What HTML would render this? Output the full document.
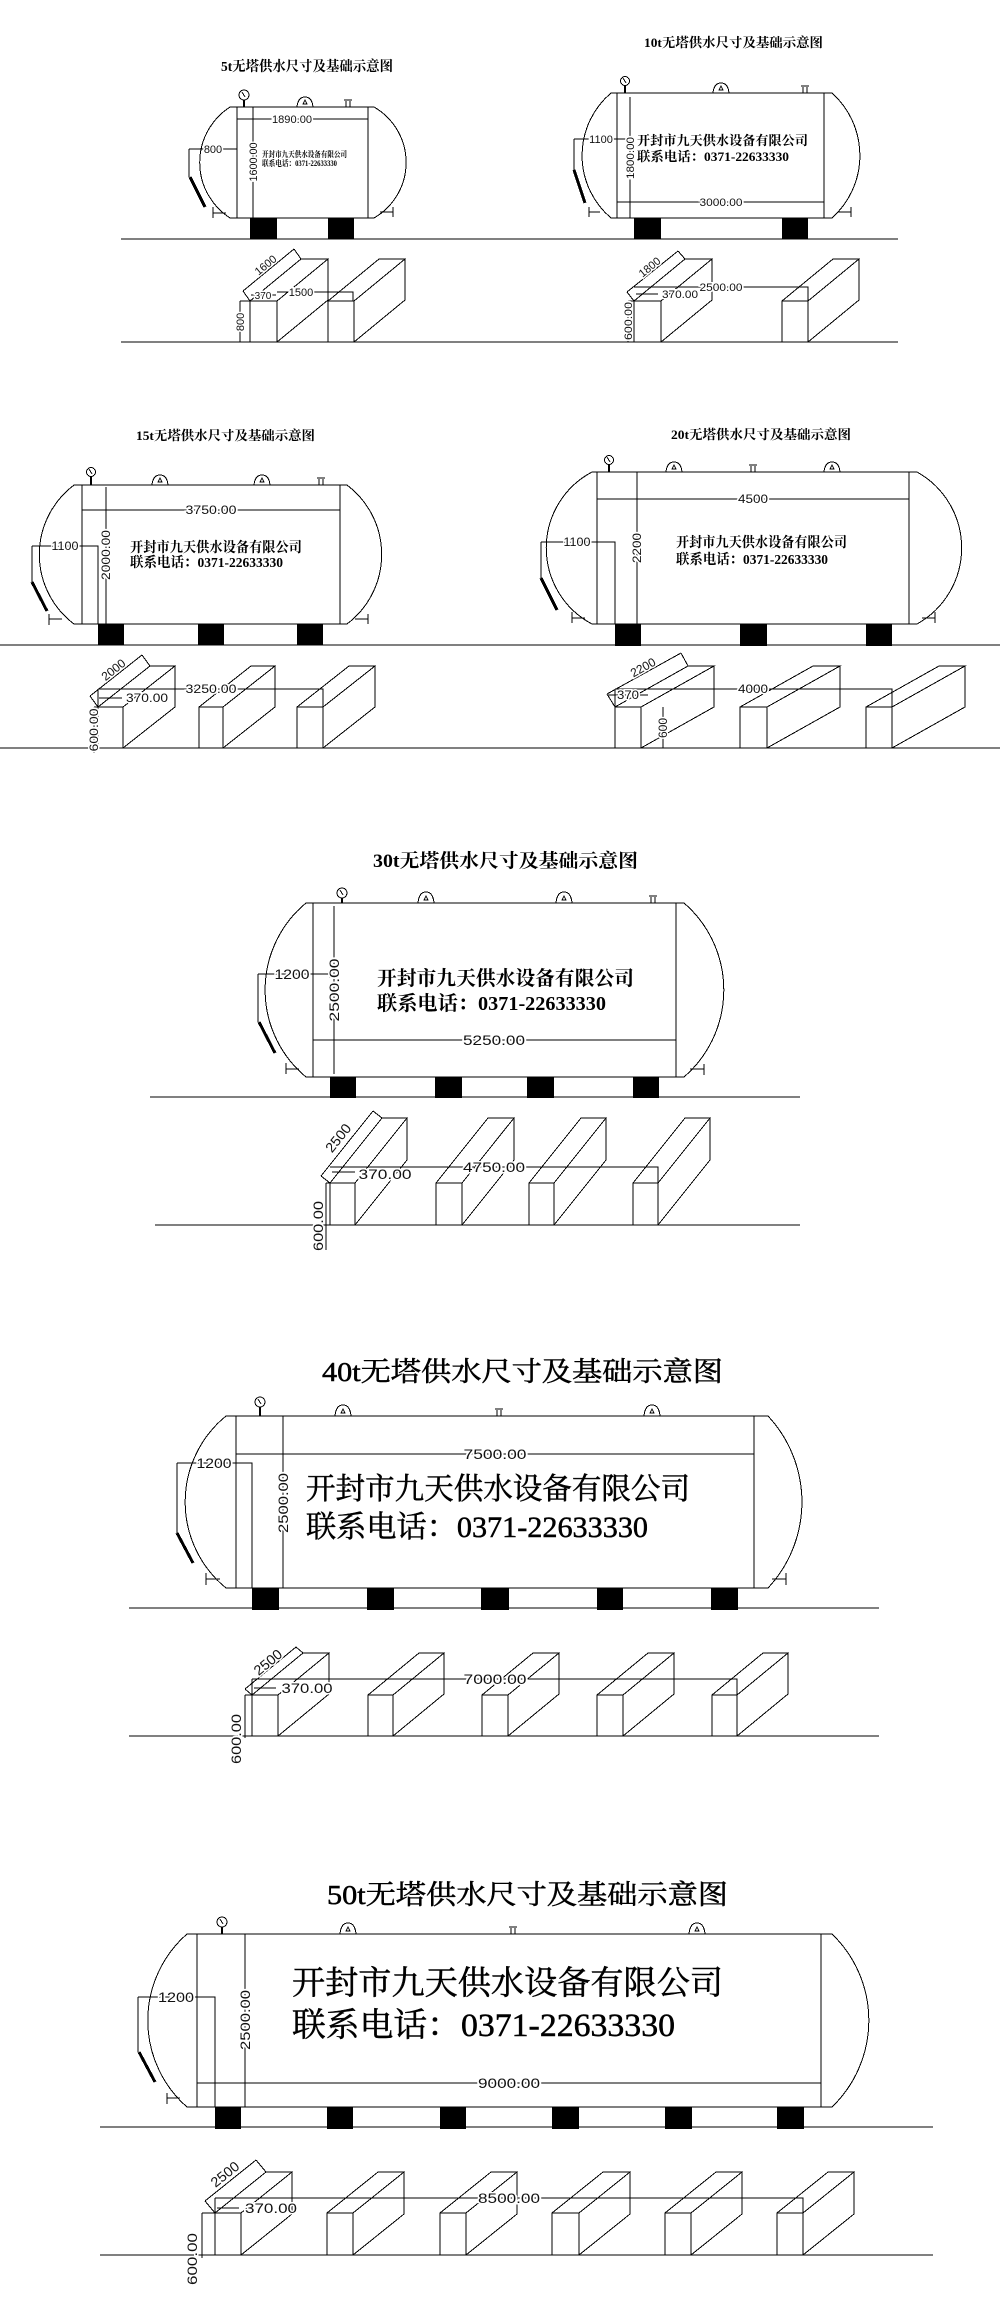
<!DOCTYPE html>
<html><head><meta charset="utf-8">
<style>
html,body{margin:0;padding:0;background:#fff;}
svg{display:block;}
.l{stroke:#000;stroke-width:1;fill:none;}
.t{font-family:"Liberation Serif","Noto Serif CJK SC",serif;fill:#000;}
.h{stroke:#000;stroke-width:0.5;}
.d{font-family:"Liberation Sans","DejaVu Sans",sans-serif;fill:#111;stroke:#fff;stroke-width:3;paint-order:stroke;}
</style></head><body>
<svg width="1000" height="2307" viewBox="0 0 1000 2307" xmlns="http://www.w3.org/2000/svg">
<rect width="1000" height="2307" fill="#fff"/>

<g class="l" shape-rendering="crispEdges">
<!-- ===== 5t ===== -->
<path d="M230,107 L374,107 A64,64 0 0 1 374,218 L230,218 A66,66 0 0 1 230,107"/>
<path d="M237,107 V218 M368,107 V218"/>
<path d="M237,119 H368 M237,116 V122 M368,116 V122"/>
<path d="M253,107 V218"/>
<path d="M189,149 H237 M189,149 V177"/>
<path d="M190,177 L205,207" stroke-width="3"/>
<circle cx="244" cy="95" r="5"/><path d="M242,92 L245,97"/><path d="M244,100 V107" stroke-width="2"/>
<path d="M297,107 Q298,97 305,97 Q312,97 313,107 M303,104 L305,100 L307,104Z"/>
<path d="M346,107 V101 M350,107 V101 M344,100 H352"/>
<path d="M213,207 V218 M213,213 H226 M393,207 V217 M380,212 H393"/>
<path d="M121,239 H898 M121,342 H898"/>
<rect x="250" y="301" width="27" height="41"/><path d="M250,301 L301,259 L328,259 L277,301 M328,259 V300 L277,342"/>
<rect x="328" y="301" width="26" height="41"/><path d="M328,301 L379,259 L405,259 L354,301 M405,259 V300 L354,342"/>
<path d="M277,292 H353 V301"/>
<path d="M251,295 H276"/>
<path d="M250,301 L243,291 M301,259 L294,249 M243,291 L294,249"/>
<path d="M240,301 V342 M240,301 H250"/>

<!-- ===== 10t ===== -->
<path d="M611,93 L832,93 A84,84 0 0 1 832,218 L611,218 A82,82 0 0 1 611,93"/>
<path d="M617,93 V218 M824,93 V218"/>
<path d="M617,202 H824 M617,199 V205 M824,199 V205"/>
<path d="M630,97 V218"/>
<path d="M574,139 H630 M574,139 V170"/>
<path d="M574,170 L585,203" stroke-width="3"/>
<circle cx="625" cy="81" r="4.5"/><path d="M623,78 L626,83"/><path d="M625,86 V93" stroke-width="2"/>
<path d="M713,93 Q714,83 721,83 Q728,83 729,93 M719,90 L721,86 L723,90Z"/>
<path d="M803,93 V87 M807,93 V87 M801,86 H809"/>
<path d="M589,207 V217 M589,212 H600 M851,207 V217 M838,212 H851"/>
<rect x="634" y="301" width="27" height="41"/><path d="M634,301 L685,259 L712,259 L661,301 M712,259 V300 L661,342"/>
<rect x="782" y="301" width="26" height="41"/><path d="M782,301 L833,259 L859,259 L808,301 M859,259 V300 L808,342"/>
<path d="M634,287 H808 V301"/>
<path d="M636,294 H658"/>
<path d="M634,301 L627,292 M685,259 L678,251 M627,292 L678,251"/>
<path d="M628,301 V342 M628,301 H634"/>

<!-- ===== 15t ===== -->
<path d="M74,485 L347,485 A87,87 0 0 1 347,624 L74,624 A87,87 0 0 1 74,485"/>
<path d="M82,485 V624 M340,485 V624"/>
<path d="M82,510 H340 M82,507 V513 M340,507 V513"/>
<path d="M106,487 V624"/>
<path d="M32,546 H98 V624 M32,546 V582"/>
<path d="M32,582 L47,611" stroke-width="3"/>
<circle cx="91" cy="472" r="4.5"/><path d="M89,469 L92,474"/><path d="M91,477 V485" stroke-width="2"/>
<path d="M152,485 Q153,475 160,475 Q167,475 168,485 M158,482 L160,478 L162,482Z"/>
<path d="M254,485 Q255,475 262,475 Q269,475 270,485 M260,482 L262,478 L264,482Z"/>
<path d="M319,485 V479 M323,485 V479 M317,478 H325"/>
<path d="M49,614 V625 M49,619 H62 M368,614 V624 M355,619 H368"/>
<path d="M0,645 H1000 M0,748 H1000"/>
<rect x="98" y="707" width="25" height="41"/><path d="M98,707 L150,666 L175,666 L123,707 M175,666 V707 L123,748"/>
<rect x="199" y="707" width="24" height="41"/><path d="M199,707 L251,666 L275,666 L223,707 M275,666 V707 L223,748"/>
<rect x="297" y="707" width="26" height="41"/><path d="M297,707 L349,666 L375,666 L323,707 M375,666 V707 L323,748"/>
<path d="M98,689 V707 M98,689 H323 V707"/>
<path d="M99,698 H122"/>
<path d="M98,707 L90,696 M150,666 L142,655 M90,696 L142,655"/>
<path d="M94,707 V753 M94,707 H98"/>

<!-- ===== 20t ===== -->
<path d="M592,472 L917,472 A87,87 0 0 1 917,624 L592,624 A86,86 0 0 1 592,472"/>
<path d="M597,472 V624 M909,472 V624"/>
<path d="M597,499 H909 M597,496 V502 M909,496 V502"/>
<path d="M637,472 V624"/>
<path d="M541,542 H615 V624 M541,542 V578"/>
<path d="M541,578 L557,610" stroke-width="3"/>
<circle cx="609" cy="460" r="4.5"/><path d="M607,457 L610,462"/><path d="M609,465 V472" stroke-width="2"/>
<path d="M666,472 Q667,462 674,462 Q681,462 682,472 M672,469 L674,465 L676,469Z"/>
<path d="M824,472 Q825,462 832,462 Q839,462 840,472 M830,469 L832,465 L834,469Z"/>
<path d="M751,472 V466 M755,472 V466 M749,465 H757"/>
<path d="M572,612 V623 M572,618 H585 M935,612 V623 M922,618 H935"/>
<rect x="615" y="707" width="26" height="41"/><path d="M615,707 L688,666 L714,666 L641,707 M714,666 V707 L641,748"/>
<rect x="740" y="707" width="27" height="41"/><path d="M740,707 L813,666 L840,666 L767,707 M840,666 V707 L767,748"/>
<rect x="866" y="707" width="26" height="41"/><path d="M866,707 L939,666 L965,666 L892,707 M965,666 V707 L892,748"/>
<path d="M615,689 V707 M615,689 H892 V707"/>
<path d="M607,695 H648"/>
<path d="M615,707 L607,694 M688,666 L681,653 M607,694 L681,653"/>
<path d="M663,707 V748"/>

<!-- ===== 30t ===== -->
<path d="M306,903 L684,903 A115,115 0 0 1 684,1077 L306,1077 A113,113 0 0 1 306,903"/>
<path d="M313,903 V1077 M676,903 V1077"/>
<path d="M313,1040 H676 M313,1037 V1043 M676,1037 V1043"/>
<path d="M334,906 V1074"/>
<path d="M258,974 H330 V978 M258,974 V1022"/>
<path d="M259,1022 L275,1053" stroke-width="3"/>
<circle cx="342" cy="893" r="5"/><path d="M340,890 L343,895"/><path d="M342,898 V903" stroke-width="2"/>
<path d="M418,903 Q419,892 426,892 Q433,892 434,903 M424,900 L426,896 L428,900Z"/>
<path d="M556,903 Q557,892 564,892 Q571,892 572,903 M562,900 L564,896 L566,900Z"/>
<path d="M651,903 V897 M655,903 V897 M649,896 H657"/>
<path d="M286,1063 V1074 M286,1069 H299 M704,1064 V1075 M690,1069 H704"/>
<path d="M150,1097 H800 M155,1225 H800"/>
<rect x="330" y="1183" width="25" height="42"/><path d="M330,1183 L382,1118 L407,1118 L355,1183 M407,1118 V1160 L355,1225"/>
<rect x="436" y="1183" width="26" height="42"/><path d="M436,1183 L488,1118 L514,1118 L462,1183 M514,1118 V1160 L462,1225"/>
<rect x="529" y="1183" width="25" height="42"/><path d="M529,1183 L581,1118 L606,1118 L554,1183 M606,1118 V1160 L554,1225"/>
<rect x="633" y="1183" width="25" height="42"/><path d="M633,1183 L685,1118 L710,1118 L658,1183 M710,1118 V1160 L658,1225"/>
<path d="M330,1167 H658 V1183"/>
<path d="M332,1172 H355"/>
<path d="M330,1183 L321,1176 M382,1118 L373,1111 M321,1176 L373,1111"/>
<path d="M326,1183 V1250 M326,1183 H330"/>

<!-- ===== 40t ===== -->
<path d="M226,1416 L768,1416 A126,126 0 0 1 768,1588 L226,1588 A111,111 0 0 1 226,1416"/>
<path d="M236,1416 V1588 M754,1416 V1588"/>
<path d="M236,1454 H754 M236,1451 V1457 M754,1451 V1457"/>
<path d="M283,1416 V1588"/>
<path d="M177,1463 H252 V1588 M177,1463 V1533"/>
<path d="M177,1533 L193,1563" stroke-width="3"/>
<circle cx="260" cy="1402" r="5"/><path d="M258,1399 L261,1404"/><path d="M260,1407 V1416" stroke-width="2"/>
<path d="M335,1416 Q336,1405 343,1405 Q350,1405 351,1416 M341,1413 L343,1409 L345,1413Z"/>
<path d="M644,1416 Q645,1405 652,1405 Q659,1405 660,1416 M650,1413 L652,1409 L654,1413Z"/>
<path d="M497,1416 V1410 M501,1416 V1410 M495,1409 H503"/>
<path d="M206,1573 V1585 M206,1579 H220 M786,1573 V1585 M772,1579 H786"/>
<path d="M129,1608 H879 M129,1736 H879"/>
<rect x="252" y="1695" width="26" height="41"/><path d="M252,1695 L303,1653 L329,1653 L278,1695 M329,1653 V1694 L278,1736"/>
<rect x="368" y="1695" width="25" height="41"/><path d="M368,1695 L419,1653 L444,1653 L393,1695 M444,1653 V1694 L393,1736"/>
<rect x="482" y="1695" width="26" height="41"/><path d="M482,1695 L533,1653 L559,1653 L508,1695 M559,1653 V1694 L508,1736"/>
<rect x="597" y="1695" width="26" height="41"/><path d="M597,1695 L648,1653 L674,1653 L623,1695 M674,1653 V1694 L623,1736"/>
<rect x="712" y="1695" width="25" height="41"/><path d="M712,1695 L763,1653 L788,1653 L737,1695 M788,1653 V1694 L737,1736"/>
<path d="M252,1679 V1695 M252,1679 H737 V1695"/>
<path d="M254,1688 H276"/>
<path d="M252,1695 L245,1689 M303,1653 L296,1647 M245,1689 L296,1647"/>
<path d="M245,1695 V1738 M245,1695 H252"/>

<!-- ===== 50t ===== -->
<path d="M187,1934 L832,1934 A120,120 0 0 1 832,2107 L187,2107 A115,115 0 0 1 187,1934"/>
<path d="M197,1934 V2107 M821,1934 V2107"/>
<path d="M197,2083 H821 M197,2080 V2086 M821,2080 V2086"/>
<path d="M245,1934 V2107"/>
<path d="M138,1997 H215 V2107 M138,1997 V2052"/>
<path d="M139,2052 L155,2082" stroke-width="3"/>
<circle cx="222" cy="1922" r="5"/><path d="M220,1919 L223,1924"/><path d="M222,1927 V1934" stroke-width="2"/>
<path d="M340,1934 Q341,1923 348,1923 Q355,1923 356,1934 M346,1931 L348,1927 L350,1931Z"/>
<path d="M689,1934 Q690,1923 697,1923 Q704,1923 705,1934 M695,1931 L697,1927 L699,1931Z"/>
<path d="M511,1934 V1928 M515,1934 V1928 M509,1927 H517"/>
<path d="M167,2093 V2104 M167,2098 H180"/>
<path d="M100,2127 H933 M100,2255 H933"/>
<rect x="215" y="2213" width="26" height="42"/><path d="M215,2213 L266,2172 L292,2172 L241,2213 M292,2172 V2214 L241,2255"/>
<rect x="327" y="2213" width="26" height="42"/><path d="M327,2213 L378,2172 L404,2172 L353,2213 M404,2172 V2214 L353,2255"/>
<rect x="440" y="2213" width="26" height="42"/><path d="M440,2213 L491,2172 L517,2172 L466,2213 M517,2172 V2214 L466,2255"/>
<rect x="552" y="2213" width="27" height="42"/><path d="M552,2213 L603,2172 L630,2172 L579,2213 M630,2172 V2214 L579,2255"/>
<rect x="665" y="2213" width="26" height="42"/><path d="M665,2213 L716,2172 L742,2172 L691,2213 M742,2172 V2214 L691,2255"/>
<rect x="777" y="2213" width="26" height="42"/><path d="M777,2213 L828,2172 L854,2172 L803,2213 M854,2172 V2214 L803,2255"/>
<path d="M215,2198 V2213 M215,2198 H803 V2213"/>
<path d="M217,2208 H239"/>
<path d="M215,2213 L205,2201 M266,2172 L256,2160 M205,2201 L256,2160"/>
<path d="M202,2213 V2258 M202,2213 H215"/>
</g>

<g fill="#000" shape-rendering="crispEdges">
<rect x="250" y="218" width="27" height="21"/><rect x="328" y="218" width="26" height="21"/>
<rect x="634" y="218" width="27" height="21"/><rect x="782" y="218" width="26" height="21"/>
<rect x="98" y="624" width="26" height="21"/><rect x="198" y="624" width="26" height="21"/><rect x="297" y="624" width="26" height="21"/>
<rect x="615" y="624" width="26" height="22"/><rect x="740" y="624" width="27" height="22"/><rect x="866" y="624" width="26" height="22"/>
<rect x="330" y="1077" width="26" height="21"/><rect x="435" y="1077" width="27" height="21"/><rect x="527" y="1077" width="27" height="21"/><rect x="633" y="1077" width="26" height="21"/>
<rect x="252" y="1588" width="27" height="22"/><rect x="367" y="1588" width="27" height="22"/><rect x="481" y="1588" width="28" height="22"/><rect x="597" y="1588" width="26" height="22"/><rect x="711" y="1588" width="27" height="22"/>
<rect x="215" y="2107" width="26" height="22"/><rect x="327" y="2107" width="26" height="22"/><rect x="440" y="2107" width="26" height="22"/><rect x="552" y="2107" width="27" height="22"/><rect x="665" y="2107" width="27" height="22"/><rect x="777" y="2107" width="27" height="22"/>
</g>

<g class="t">
<text x="221" y="71" font-size="14" font-weight="bold" textLength="172" lengthAdjust="spacingAndGlyphs">5t无塔供水尺寸及基础示意图</text>
<text x="262" y="157" font-size="8" font-weight="bold" textLength="85" lengthAdjust="spacingAndGlyphs">开封市九天供水设备有限公司</text>
<text x="262" y="166" font-size="8" font-weight="bold" textLength="75" lengthAdjust="spacingAndGlyphs">联系电话：0371-22633330</text>

<text x="644" y="47" font-size="13" font-weight="bold" textLength="179" lengthAdjust="spacingAndGlyphs">10t无塔供水尺寸及基础示意图</text>
<text x="637" y="145" font-size="13" font-weight="bold" textLength="171" lengthAdjust="spacingAndGlyphs">开封市九天供水设备有限公司</text>
<text x="637" y="161" font-size="13" font-weight="bold" textLength="152" lengthAdjust="spacingAndGlyphs">联系电话：0371-22633330</text>

<text x="136" y="440" font-size="13" font-weight="bold" textLength="179" lengthAdjust="spacingAndGlyphs">15t无塔供水尺寸及基础示意图</text>
<text x="130" y="552" font-size="14" font-weight="bold" textLength="172" lengthAdjust="spacingAndGlyphs">开封市九天供水设备有限公司</text>
<text x="130" y="567" font-size="14" font-weight="bold" textLength="153" lengthAdjust="spacingAndGlyphs">联系电话：0371-22633330</text>

<text x="671" y="439" font-size="13" font-weight="bold" textLength="180" lengthAdjust="spacingAndGlyphs">20t无塔供水尺寸及基础示意图</text>
<text x="676" y="547" font-size="14" font-weight="bold" textLength="171" lengthAdjust="spacingAndGlyphs">开封市九天供水设备有限公司</text>
<text x="676" y="564" font-size="14" font-weight="bold" textLength="152" lengthAdjust="spacingAndGlyphs">联系电话：0371-22633330</text>

<text x="373" y="867" font-size="19" font-weight="bold" textLength="265" lengthAdjust="spacingAndGlyphs">30t无塔供水尺寸及基础示意图</text>
<text x="377" y="985" font-size="20" font-weight="bold" textLength="257" lengthAdjust="spacingAndGlyphs">开封市九天供水设备有限公司</text>
<text x="377" y="1010" font-size="20" font-weight="bold" textLength="229" lengthAdjust="spacingAndGlyphs">联系电话：0371-22633330</text>

<text class="h" x="322" y="1381" font-size="27" textLength="401" lengthAdjust="spacingAndGlyphs">40t无塔供水尺寸及基础示意图</text>
<text class="h" x="306" y="1499" font-size="30" textLength="384" lengthAdjust="spacingAndGlyphs">开封市九天供水设备有限公司</text>
<text class="h" x="306" y="1537" font-size="30" textLength="342" lengthAdjust="spacingAndGlyphs">联系电话：0371-22633330</text>

<text class="h" x="327" y="1904" font-size="27" textLength="401" lengthAdjust="spacingAndGlyphs">50t无塔供水尺寸及基础示意图</text>
<text class="h" x="292" y="1994" font-size="33" textLength="431" lengthAdjust="spacingAndGlyphs">开封市九天供水设备有限公司</text>
<text class="h" x="292" y="2036" font-size="33" textLength="383" lengthAdjust="spacingAndGlyphs">联系电话：0371-22633330</text>
</g>

<g class="d" text-anchor="middle">
<text x="292" y="123" font-size="11" textLength="40" lengthAdjust="spacingAndGlyphs">1890.00</text>
<text transform="translate(257,162) rotate(-90)" font-size="11" textLength="39" lengthAdjust="spacingAndGlyphs">1600.00</text>
<text x="213" y="153" font-size="11">800</text>
<text x="301" y="296" font-size="11">1500</text>
<text x="263" y="299" font-size="10">370</text>
<text transform="translate(268,268) rotate(-39.5)" font-size="11">1600</text>
<text transform="translate(244,322) rotate(-90)" font-size="11">800</text>

<text x="721" y="206" font-size="11" textLength="43" lengthAdjust="spacingAndGlyphs">3000.00</text>
<text transform="translate(634,158) rotate(-90)" font-size="11" textLength="42" lengthAdjust="spacingAndGlyphs">1800.00</text>
<text x="601" y="143" font-size="11">1100</text>
<text x="721" y="291" font-size="11" textLength="43" lengthAdjust="spacingAndGlyphs">2500.00</text>
<text x="680" y="298" font-size="11" textLength="36" lengthAdjust="spacingAndGlyphs">370.00</text>
<text transform="translate(652,270) rotate(-39.5)" font-size="11">1800</text>
<text transform="translate(632,321) rotate(-90)" font-size="11" textLength="38" lengthAdjust="spacingAndGlyphs">600.00</text>

<text x="211" y="514" font-size="12" textLength="51" lengthAdjust="spacingAndGlyphs">3750.00</text>
<text transform="translate(110,555) rotate(-90)" font-size="12" textLength="50" lengthAdjust="spacingAndGlyphs">2000.00</text>
<text x="65" y="550" font-size="12" textLength="27" lengthAdjust="spacingAndGlyphs">1100</text>
<text x="211" y="693" font-size="12" textLength="51" lengthAdjust="spacingAndGlyphs">3250.00</text>
<text x="147" y="702" font-size="12" textLength="42" lengthAdjust="spacingAndGlyphs">370.00</text>
<text transform="translate(116,673) rotate(-38.5)" font-size="12">2000</text>
<text transform="translate(98,730) rotate(-90)" font-size="12" textLength="43" lengthAdjust="spacingAndGlyphs">600.00</text>

<text x="753" y="503" font-size="12" textLength="30" lengthAdjust="spacingAndGlyphs">4500</text>
<text transform="translate(641,548) rotate(-90)" font-size="12" textLength="30" lengthAdjust="spacingAndGlyphs">2200</text>
<text x="577" y="546" font-size="12" textLength="27" lengthAdjust="spacingAndGlyphs">1100</text>
<text x="753" y="693" font-size="12" textLength="30" lengthAdjust="spacingAndGlyphs">4000</text>
<text x="628" y="699" font-size="12" textLength="22" lengthAdjust="spacingAndGlyphs">370</text>
<text transform="translate(645,671) rotate(-29.3)" font-size="12">2200</text>
<text transform="translate(667,728) rotate(-90)" font-size="12">600</text>

<text x="494" y="1045" font-size="14" textLength="62" lengthAdjust="spacingAndGlyphs">5250.00</text>
<text transform="translate(339,990) rotate(-90)" font-size="14" textLength="63" lengthAdjust="spacingAndGlyphs">2500.00</text>
<text x="292" y="979" font-size="14" textLength="35" lengthAdjust="spacingAndGlyphs">1200</text>
<text x="494" y="1172" font-size="14" textLength="62" lengthAdjust="spacingAndGlyphs">4750.00</text>
<text x="385" y="1179" font-size="14" textLength="53" lengthAdjust="spacingAndGlyphs">370.00</text>
<text transform="translate(342,1141) rotate(-51.3)" font-size="14" textLength="32" lengthAdjust="spacingAndGlyphs">2500</text>
<text transform="translate(323,1226) rotate(-90)" font-size="14" textLength="50" lengthAdjust="spacingAndGlyphs">600.00</text>

<text x="495" y="1459" font-size="14" textLength="63" lengthAdjust="spacingAndGlyphs">7500.00</text>
<text transform="translate(288,1503) rotate(-90)" font-size="14" textLength="60" lengthAdjust="spacingAndGlyphs">2500.00</text>
<text x="214" y="1468" font-size="14" textLength="35" lengthAdjust="spacingAndGlyphs">1200</text>
<text x="495" y="1684" font-size="14" textLength="63" lengthAdjust="spacingAndGlyphs">7000.00</text>
<text x="307" y="1693" font-size="14" textLength="51" lengthAdjust="spacingAndGlyphs">370.00</text>
<text transform="translate(271,1666) rotate(-39.5)" font-size="14" textLength="32" lengthAdjust="spacingAndGlyphs">2500</text>
<text transform="translate(241,1739) rotate(-90)" font-size="14" textLength="50" lengthAdjust="spacingAndGlyphs">600.00</text>

<text x="509" y="2088" font-size="14" textLength="62" lengthAdjust="spacingAndGlyphs">9000.00</text>
<text transform="translate(250,2020) rotate(-90)" font-size="14" textLength="60" lengthAdjust="spacingAndGlyphs">2500.00</text>
<text x="176" y="2002" font-size="14" textLength="36" lengthAdjust="spacingAndGlyphs">1200</text>
<text x="509" y="2203" font-size="14" textLength="62" lengthAdjust="spacingAndGlyphs">8500.00</text>
<text x="271" y="2213" font-size="14" textLength="52" lengthAdjust="spacingAndGlyphs">370.00</text>
<text transform="translate(228,2178) rotate(-38.8)" font-size="14" textLength="32" lengthAdjust="spacingAndGlyphs">2500</text>
<text transform="translate(197,2259) rotate(-90)" font-size="14" textLength="52" lengthAdjust="spacingAndGlyphs">600.00</text>
</g>
</svg>
</body></html>
